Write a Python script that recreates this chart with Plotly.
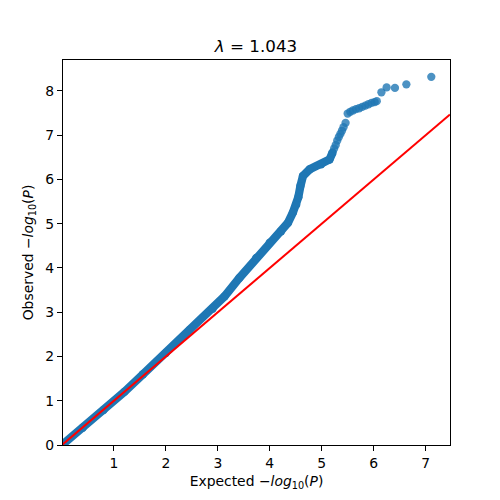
import plotly.graph_objects as go

# Dense part of the QQ curve (expected, observed)
dense_exp = [0.02, 0.40, 0.80, 1.20, 1.56, 2.00, 2.456, 2.90, 3.13, 3.415, 3.74, 4.00,
             4.22, 4.35, 4.445, 4.51, 4.55, 4.59, 4.64, 4.77, 4.99, 5.15, 5.21]
dense_obs = [0.02, 0.39, 0.79, 1.20, 1.60, 2.08, 2.60, 3.08, 3.36, 3.775, 4.23, 4.57,
             4.83, 5.02, 5.25, 5.43, 5.60, 5.85, 6.08, 6.23, 6.34, 6.45, 6.61]

# Upper tail points
tail_exp = [5.24, 5.27, 5.30, 5.33, 5.36, 5.39, 5.42, 5.46, 5.50, 5.55, 5.60, 5.66, 5.72,
            5.78, 5.84, 5.90, 5.96, 6.02, 6.06, 6.15, 6.25, 6.41, 6.63, 7.11]
tail_obs = [6.70, 6.78, 6.88, 6.96, 7.03, 7.10, 7.18, 7.28, 7.49, 7.53, 7.56, 7.59, 7.61,
            7.64, 7.67, 7.70, 7.73, 7.75, 7.77, 7.97, 8.08, 8.07, 8.15, 8.32]

diag = [0.0, 7.47]
x_ticks = [1, 2, 3, 4, 5, 6, 7]
y_ticks = [0, 1, 2, 3, 4, 5, 6, 7, 8]
title_text = "<i>λ</i> = 1.043"

blue = "#1f77b4"
fig = go.Figure()
fig.add_trace(go.Scatter(x=dense_exp, y=dense_obs, mode="lines+markers",
                         line=dict(color=blue, width=8.3),
                         marker=dict(color=blue, size=8.3), hoverinfo="skip"))
fig.add_trace(go.Scatter(x=tail_exp, y=tail_obs, mode="markers",
                         marker=dict(color=blue, size=8.3, opacity=0.8, line=dict(width=0))))
fig.add_trace(go.Scatter(x=diag, y=diag, mode="lines",
                         line=dict(color="red", width=2.1)))

axis_common = dict(showline=True, mirror=True, linecolor="black", linewidth=1.1,
                   ticks="outside", ticklen=5, tickwidth=1.1, tickcolor="black",
                   showgrid=False, zeroline=False,
                   tickfont=dict(family="DejaVu Sans", size=13.9, color="black"))
fig.update_layout(
    width=500, height=500,
    margin=dict(l=62.5, r=50, t=60, b=55),
    paper_bgcolor="white", plot_bgcolor="white",
    showlegend=False,
    font=dict(family="DejaVu Sans", color="black"),
    title=dict(text=title_text, x=0.512, xanchor="center", y=(500 - 46) / 500, yanchor="middle",
               font=dict(family="DejaVu Sans", size=16.7, color="black")),
    xaxis=dict(range=[0.02, 7.47], tickvals=x_ticks,
               title=dict(text="Expected −<i>log</i><sub>10</sub>(<i>P</i>)",
                          font=dict(family="DejaVu Sans", size=13.9), standoff=6),
               **axis_common),
    yaxis=dict(range=[0, 8.70], tickvals=y_ticks,
               title=dict(text="Observed −<i>log</i><sub>10</sub>(<i>P</i>)",
                          font=dict(family="DejaVu Sans", size=13.9), standoff=8),
               **axis_common),
)
fig.write_html("out.html")
